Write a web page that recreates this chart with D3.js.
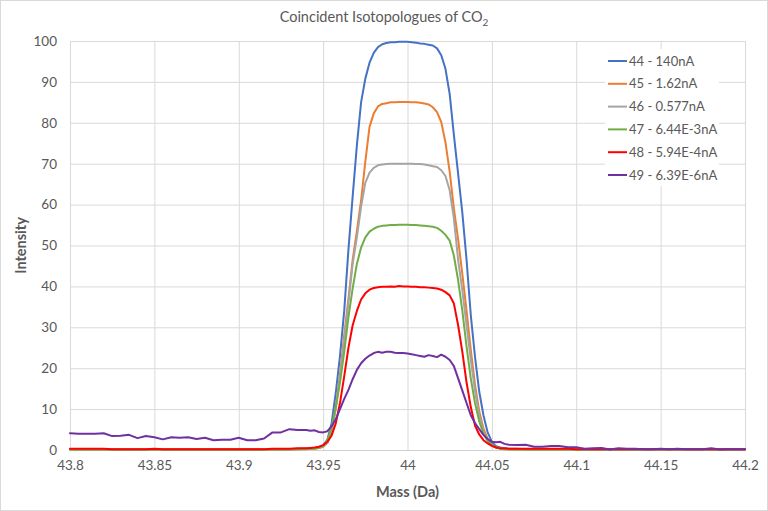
<html>
<head>
<meta charset="utf-8">
<script src="https://cdn.jsdelivr.net/npm/d3@7"></script>
<style>
  body { margin: 0; background: #fff; }
  text { font-family: Lato, "Open Sans", sans-serif; fill: #595959; }
</style>
</head>
<body>
<svg id="chart"></svg>
<script>
// mass axis (Da): coarse on the baselines, finer across the peak
var mass = [
  43.800,43.805,43.810,43.815,43.820,43.825,43.830,
  43.835,43.840,43.845,43.850,43.855,43.860,43.865,
  43.870,43.875,43.880,43.885,43.890,43.895,43.900,
  43.905,43.910,43.915,43.920,43.925,43.930,43.935,
  43.9400,43.9425,43.9450,43.9475,43.9500,43.9525,43.9550,
  43.9575,43.9600,43.9625,43.9650,43.9675,43.9700,43.9725,
  43.9750,43.9775,43.9800,43.9825,43.9850,43.9875,43.9900,
  43.9925,43.9950,43.9975,44.0000,44.0025,44.0050,44.0075,
  44.0100,44.0125,44.0150,44.0175,44.0200,44.0225,44.0250,
  44.0275,44.0300,44.0325,44.0350,44.0375,44.0400,44.0425,
  44.0450,44.0475,44.0500,44.0525,44.0550,44.0575,44.0600,
  44.065,44.070,44.075,44.080,44.085,44.090,44.095,
  44.100,44.105,44.110,44.115,44.120,44.125,44.130,
  44.135,44.140,44.145,44.150,44.155,44.160,44.165,
  44.170,44.175,44.180,44.185,44.190,44.195,44.200
];

var m44 = [
  0.2,0.2,0.2,0.2,0.2,0.1,0.1,
  0.1,0.1,0.1,0.1,0.1,0.1,0.1,
  0.1,0.1,0.1,0.1,0.1,0.1,0.1,
  0.1,0.1,0.1,0.2,0.2,0.2,0.3,
  0.3,0.4,0.5,0.7,1.1,2.5,6.5,
  14,23,34,49,62,74.5,85,
  90.8,94.7,97.1,98.5,99.2,99.5,99.7,
  99.7,99.8,99.8,99.8,99.7,99.6,99.4,
  99.3,99.1,98.9,98.2,96.5,93.2,87,
  77,67.5,58,46.5,33,22.8,14.3,
  8.5,4.3,2.0,0.9,0.6,0.4,0.3,
  0.3,0.2,0.2,0.2,0.2,0.2,0.1,
  0.1,0.1,0.1,0.1,0.1,0.1,0.1,
  0.1,0.1,0.1,0.1,0.1,0.1,0.1,
  0.1,0.1,0.1,0.1,0.1,0.1,0.1
];

var m45 = [
  0.1,0.1,0.1,0.1,0.1,0.1,0.1,
  0.1,0.1,0.1,0.1,0.1,0.1,0.1,
  0.1,0.1,0.1,0.1,0.1,0.1,0.1,
  0.1,0.1,0.1,0.1,0.2,0.2,0.2,
  0.3,0.3,0.4,0.5,0.8,1.8,4.5,
  10.5,18.5,28,37,46.5,53.5,61,
  70.5,79,82.3,84,84.6,84.8,85.0,
  85.0,85.1,85.1,85.1,85.0,85.0,84.9,
  84.7,84.5,83.8,82.6,80.2,75.2,68,
  59,51.5,43,34,24.5,16,9.5,
  5.3,2.7,1.3,0.6,0.4,0.3,0.2,
  0.2,0.2,0.1,0.1,0.1,0.1,0.1,
  0.1,0.1,0.1,0.1,0.1,0.1,0.1,
  0.1,0.1,0.1,0.1,0.1,0.1,0.1,
  0.1,0.1,0.1,0.1,0.1,0.1,0.1
];

var m46 = [
  0.1,0.1,0.1,0.1,0.1,0.1,0.1,
  0.1,0.1,0.1,0.1,0.1,0.1,0.1,
  0.1,0.1,0.1,0.1,0.1,0.1,0.1,
  0.1,0.1,0.1,0.1,0.2,0.2,0.2,
  0.3,0.3,0.4,0.5,0.8,1.7,4.3,
  10,18,27,36,45.5,52,59.5,
  65.3,67.8,69,69.6,69.8,69.9,70.0,
  70.0,70.0,70.0,70.0,70.0,69.9,69.9,
  69.8,69.6,69.4,69.2,68.4,67,63.5,
  56.5,46.5,39,30.5,22,14.5,8.5,
  4.6,2.3,1.1,0.6,0.4,0.3,0.2,
  0.2,0.2,0.1,0.1,0.1,0.1,0.1,
  0.1,0.1,0.1,0.1,0.1,0.1,0.1,
  0.1,0.1,0.1,0.1,0.1,0.1,0.1,
  0.1,0.1,0.1,0.1,0.1,0.1,0.1
];

var m47 = [
  0.1,0.1,0.1,0.1,0.1,0.1,0.1,
  0.1,0.1,0.1,0.1,0.1,0.1,0.1,
  0.1,0.1,0.1,0.1,0.1,0.1,0.1,
  0.1,0.1,0.1,0.1,0.1,0.1,0.2,
  0.2,0.3,0.3,0.5,1.0,2.4,5.6,
  10.5,16.5,24,32.5,39.5,45.5,49.5,
  52,53.4,54.1,54.6,54.8,54.9,55.0,
  55.0,55.1,55.1,55.1,55.0,55.0,54.9,
  54.8,54.7,54.6,54.3,53.6,52.6,51.2,
  47.5,41.5,34,25.3,17.5,11.5,7,
  4,2.2,1.2,0.6,0.3,0.2,0.2,
  0.1,0.1,0.1,0.1,0.1,0.1,0.1,
  0.1,0.1,0.1,0.1,0.1,0.1,0.1,
  0.1,0.1,0.1,0.1,0.1,0.1,0.1,
  0.1,0.1,0.1,0.1,0.1,0.1,0.1
];

var m48 = [
  0.3,0.3,0.3,0.3,0.3,0.2,0.2,
  0.2,0.2,0.2,0.3,0.2,0.2,0.2,
  0.2,0.2,0.2,0.2,0.2,0.2,0.2,
  0.2,0.2,0.2,0.3,0.3,0.3,0.4,
  0.4,0.5,0.6,0.8,1.2,2.0,3.5,
  6.5,11.5,18,25,30.5,34,36.8,
  38.3,39.2,39.6,39.8,39.9,39.9,40.0,
  39.9,40.1,40.0,40.0,39.9,39.9,39.8,
  39.8,39.7,39.6,39.5,39.2,38.6,37.8,
  35.8,30.5,24,16.5,10.5,6,3.8,
  2.4,1.6,1.0,0.6,0.4,0.4,0.3,
  0.3,0.3,0.3,0.3,0.3,0.3,0.3,
  0.2,0.2,0.2,0.2,0.2,0.2,0.2,
  0.2,0.2,0.2,0.2,0.2,0.2,0.2,
  0.2,0.2,0.2,0.2,0.2,0.2,0.2
];

var m49 = [
  4.1,4.0,4.0,4.0,4.1,3.4,3.5,
  3.7,2.9,3.4,3.1,2.6,3.1,3.0,
  3.1,2.7,3.0,2.4,2.5,2.5,3.0,
  2.4,2.4,2.8,4.3,4.3,5.1,4.9,
  4.9,4.7,4.8,4.4,4.3,4.6,5.8,
  7.5,10,12.5,14.7,17.3,19.6,21.2,
  22.3,23.1,23.7,24.0,23.8,24.0,24.0,
  23.8,23.7,23.7,23.6,23.4,23.2,23.0,
  22.8,23.2,23.0,22.7,23.3,22.8,22.0,
  20.5,17.5,14.5,11.5,8.5,6.6,5.1,
  3.7,2.7,2.0,1.9,2.0,1.5,1.3,
  1.2,1.3,0.8,0.8,1.0,1.0,0.7,
  0.7,0.3,0.4,0.5,0.1,0.4,0.3,
  0.3,0.2,0.2,0.3,0.2,0.3,0.2,
  0.2,0.2,0.4,0.1,0.2,0.2,0.2
];

var seriesNames = ["44 - 140nA", "45 - 1.62nA", "46 - 0.577nA",
                   "47 - 6.44E-3nA", "48 - 5.94E-4nA", "49 - 6.39E-6nA"];
var seriesValues = [m44, m45, m46, m47, m48, m49];
var colors = ["#4472C4", "#ED7D31", "#A5A5A5", "#70AD47", "#FF0000", "#7030A0"];

var xTicks = [43.8, 43.85, 43.9, 43.95, 44, 44.05, 44.1, 44.15, 44.2];
var yTicks = [0, 10, 20, 30, 40, 50, 60, 70, 80, 90, 100];

var W = 768, H = 511;
var margin = {left: 70, right: 23, top: 41, bottom: 61};

var svg = d3.select("#chart").attr("width", W).attr("height", H);

svg.append("rect")
  .attr("x", 0.5).attr("y", 0.5)
  .attr("width", W - 1).attr("height", H - 1)
  .attr("fill", "#fff").attr("stroke", "#d9d9d9");

var x = d3.scaleLinear().domain([43.8, 44.2]).range([margin.left, W - margin.right]);
var y = d3.scaleLinear().domain([0, 100]).range([H - margin.bottom, margin.top]);

// grid lines
var gy = svg.append("g")
  .attr("transform", "translate(" + margin.left + ",0)")
  .call(d3.axisLeft(y).tickValues(yTicks).tickSize(-(W - margin.left - margin.right)).tickPadding(13));
gy.select(".domain").remove();
gy.selectAll("line").attr("stroke", "#d9d9d9");
gy.selectAll("text").style("font-size", "13.5px").attr("fill", "#595959");

var gx = svg.append("g")
  .attr("transform", "translate(0," + (H - margin.bottom) + ")")
  .call(d3.axisBottom(x).tickValues(xTicks).tickFormat(function(d) { return String(d); })
        .tickSize(-(H - margin.top - margin.bottom)).tickPadding(10));
gx.select(".domain").attr("stroke", "#d0d0d0");
gx.selectAll("line").attr("stroke", "#d9d9d9");
gx.selectAll("text").style("font-size", "13.5px").attr("fill", "#595959");

// series lines
var line = d3.line()
  .x(function(d, i) { return x(mass[i]); })
  .y(function(d) { return y(d); });

svg.append("g").selectAll("path")
  .data(seriesValues)
  .enter().append("path")
  .attr("d", line)
  .attr("fill", "none")
  .attr("stroke", function(d, i) { return colors[i]; })
  .attr("stroke-width", 2)
  .attr("stroke-linejoin", "round")
  .attr("stroke-linecap", "round");

// legend
var legend = svg.append("g").attr("transform", "translate(605,49)");
legend.append("rect")
  .attr("width", 114).attr("height", 137).attr("fill", "#fff");
var item = legend.selectAll("g.item")
  .data(seriesNames)
  .enter().append("g")
  .attr("class", "item")
  .attr("transform", function(d, i) { return "translate(0," + (12 + i * 22.8) + ")"; });
item.append("line")
  .attr("x1", 3).attr("x2", 22)
  .attr("stroke", function(d, i) { return colors[i]; })
  .attr("stroke-width", 2);
item.append("text")
  .attr("x", 24).attr("dy", "0.35em")
  .style("font-size", "13px")
  .text(function(d) { return d; });

// titles
var title = svg.append("text")
  .attr("x", W / 2).attr("y", 22)
  .attr("text-anchor", "middle")
  .style("font-size", "14.5px");
title.append("tspan").text("Coincident Isotopologues of CO");
title.append("tspan").attr("dy", 4).style("font-size", "10px").text("2");

svg.append("text")
  .attr("x", (margin.left + W - margin.right) / 2).attr("y", 497)
  .attr("text-anchor", "middle")
  .style("font-size", "14.5px").style("font-weight", "bold")
  .text("Mass (Da)");

svg.append("text")
  .attr("transform", "translate(26," + ((margin.top + H - margin.bottom) / 2) + ") rotate(-90)")
  .attr("text-anchor", "middle")
  .style("font-size", "14.5px").style("font-weight", "bold")
  .text("Intensity");
</script>
</body>
</html>
